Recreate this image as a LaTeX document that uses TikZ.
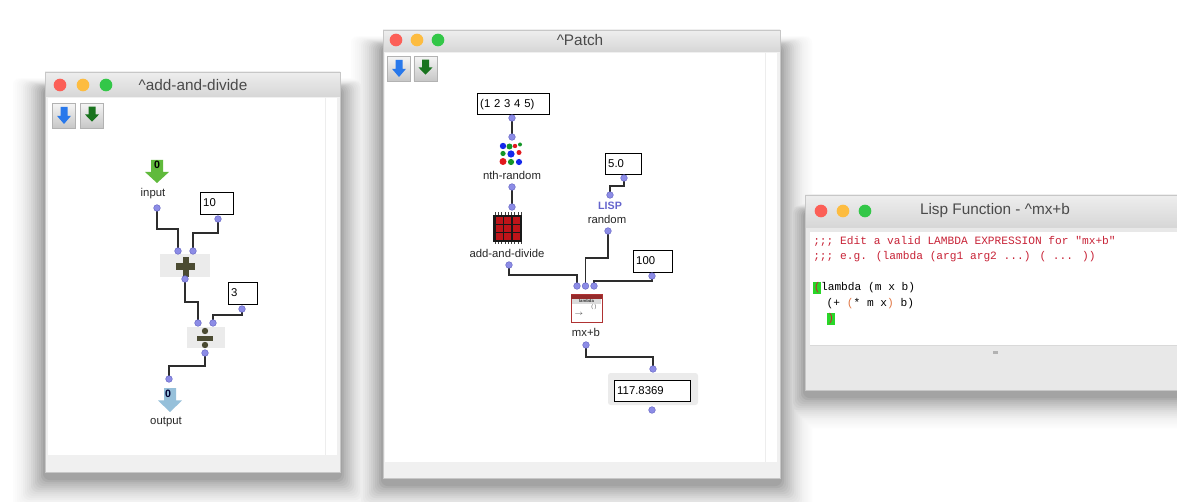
\documentclass[tikz,border=0pt]{standalone}
\usepackage{fontspec}
\setmainfont{Liberation Sans}
\newfontfamily\lispfont{Liberation Mono}
\pgfdeclarelayer{bg}
\pgfdeclarelayer{wires}
\pgfsetlayers{bg,wires,main}
\definecolor{portc}{RGB}{140,140,230}
\definecolor{portd}{RGB}{90,90,190}
\definecolor{wirec}{RGB}{45,45,45}
\definecolor{titlegray}{RGB}{74,74,74}
\definecolor{barTop}{RGB}{238,238,238}
\definecolor{barBot}{RGB}{214,214,214}
\definecolor{macred}{RGB}{252,95,87}
\definecolor{macyellow}{RGB}{253,188,64}
\definecolor{macgreen}{RGB}{51,199,72}
\definecolor{arrowblue}{RGB}{40,120,235}
\definecolor{arrowgreen}{RGB}{25,115,30}
\definecolor{ingreen}{RGB}{96,186,60}
\definecolor{outblue}{RGB}{150,192,218}
\definecolor{plusc}{RGB}{75,75,50}
\definecolor{chipred}{RGB}{190,20,25}
\definecolor{lambdared}{RGB}{175,50,50}
\definecolor{lispblue}{RGB}{100,100,205}
\definecolor{lispred}{RGB}{200,35,55}
\definecolor{lisporange}{RGB}{225,120,70}
\definecolor{hlgreen}{RGB}{40,215,40}
\definecolor{dotblue}{RGB}{20,40,235}
\definecolor{dotgreen}{RGB}{20,150,40}
\definecolor{dotred}{RGB}{225,25,30}
\tikzset{
  wintitle/.style={font=\fontsize{11.5}{13}\selectfont, text=titlegray, inner sep=0pt},
  light/.style={circle, inner sep=0pt, minimum size=9.5pt},
  btn/.style={rectangle, minimum width=17.5pt, minimum height=18.5pt, top color=black!4, bottom color=black!22, draw=black!30, line width=0.4pt, inner sep=0pt},
  port/.style={circle, fill=portc, draw=portd, line width=0.3pt, inner sep=0pt, minimum size=5pt},
  wire/.style={draw=wirec, line width=0.85pt},
  lbl/.style={font=\fontsize{8.5}{10}\selectfont, inner sep=0pt, text=black!85},
  valbox/.style={draw=black, line width=0.85pt, fill=white, anchor=north west, inner xsep=2pt, inner ysep=0pt, align=left, font=\fontsize{8.5}{10}\selectfont, text height=6.5pt, text depth=1.8pt},
  lispline/.style={anchor=west, inner sep=0pt, font=\lispfont\fontsize{8.4}{10}\selectfont},
  darrow/.pic={\fill[pic actions] (-0.25,-0.5) -- (0.25,-0.5) -- (0.25,0.02) -- (0.5,0.02) -- (0,0.5) -- (-0.5,0.02) -- (-0.25,0.02) -- cycle;}
}
\setlength{\fboxsep}{0.4pt}
\begin{document}
\begin{tikzpicture}[x=0.75pt,y=-0.75pt]
\path[use as bounding box] (0,0) rectangle (1177,502);
\clip (0,0) rectangle (1177,502);

% ================= window frames =================
\begin{pgfonlayer}{bg}
\fill[white] (0,0) rectangle (1177,502);
% soft drop shadows, drawn from the outermost (lightest) ring inwards
\foreach \k in {18,...,1} {
  \pgfmathtruncatemacro\shadepct{round(40*(1-\k/19)^2)}
  \fill[black!\shadepct, rounded corners=5pt] (45-2*\k,72+16-0.6*\k) rectangle (340+2*\k,472+6+2*\k);
  \fill[black!\shadepct, rounded corners=5pt] (383-2*\k,30+16-0.6*\k) rectangle (780+2*\k,478+6+2*\k);
  \fill[black!\shadepct, rounded corners=5pt] (805-2*\k,195+16-0.6*\k) rectangle (1195+2*\k,390+6+2*\k);
}
% left window
\fill[black!6] (45,72) rectangle (340,472);
\shade[top color=barTop, bottom color=barBot] (45,72) rectangle (340,97);
\fill[white] (48,98) rectangle (337,455);
\draw[black!7] (325,98) -- (325,455);
\draw[black!22, line width=0.5pt] (45,72) rectangle (340,472);
% middle window
\fill[black!6] (383,30) rectangle (780,478);
\shade[top color=barTop, bottom color=barBot] (383,30) rectangle (780,52);
\fill[white] (385,53) rectangle (777,462);
\draw[black!7] (765,53) -- (765,462);
\draw[black!22, line width=0.5pt] (383,30) rectangle (780,478);
% right window
\fill[black!9] (805,195) rectangle (1195,390);
\shade[top color=barTop, bottom color=barBot] (805,195) rectangle (1195,228);
\fill[white] (810,232) rectangle (1195,345);
\draw[black!15] (810,345) -- (1195,345);
\fill[black!30] (993,351) rectangle (998,354);
\draw[black!22, line width=0.5pt] (805,195) rectangle (1195,390);
\end{pgfonlayer}

% ================= title bars =================
\node[light, fill=macred] (lr) at (60,85) {};
\node[light, fill=macyellow] (ly) at (83,85) {};
\node[light, fill=macgreen] (lg) at (106,85) {};
\node[wintitle] (tL) at (193,85) {\textasciicircum add-and-divide};

\node[light, fill=macred] (mr) at (396,40) {};
\node[light, fill=macyellow] (my) at (417,40) {};
\node[light, fill=macgreen] (mg) at (438,40) {};
\node[wintitle] (tM) at (580,40) {\textasciicircum Patch};

\node[light, fill=macred] (rr) at (821,211) {};
\node[light, fill=macyellow] (ry) at (843,211) {};
\node[light, fill=macgreen] (rg) at (865,211) {};
\node[wintitle] (tR) at (995,211) {Lisp Function - \textasciicircum mx+b};

% ================= buttons =================
\node[btn] (bL1) at (64,115.5) {};
\node[btn] (bL2) at (92,115.5) {};
\pic[fill=arrowblue, xscale=14, yscale=17] at (bL1) {darrow};
\pic[fill=arrowgreen, xscale=14, yscale=15] at ([yshift=1pt]bL2.center) {darrow};
\node[btn] (bM1) at (399,68.5) {};
\node[btn] (bM2) at (425.5,68.5) {};
\pic[fill=arrowblue, xscale=14, yscale=17] at (bM1) {darrow};
\pic[fill=arrowgreen, xscale=14, yscale=15] at ([yshift=1pt]bM2.center) {darrow};

% ================= left patch =================
\pic[fill=ingreen, xscale=24, yscale=23] at (157,171.5) {darrow};
\node[inner sep=0pt, font=\bfseries\fontsize{8}{9}\selectfont] (inval) at (157,165) {0};
\node[lbl] (inlbl) at (153,194) {input};
\node[port] (pin) at (157,208) {};

\node[valbox, text width=20.75pt, minimum height=16.5pt] (b10) at (200,192) {10};
\node[port] (p10) at (218,219) {};

\fill[black!8] (160,254) rectangle (210,277);
\node[port] (plusA) at (178,251) {};
\node[port] (plusB) at (193,251) {};
\fill[plusc] (176,263) rectangle (195,270);
\fill[plusc] (182.5,257) rectangle (188.5,277);
\node[port] (plusO) at (185,279) {};

\node[valbox, text width=17.75pt, minimum height=16.5pt] (b3) at (228,282) {3};
\node[port] (p3) at (242,309) {};

\fill[black!8] (187,327) rectangle (225,348);
\node[port] (divA) at (198,323) {};
\node[port] (divB) at (213,323) {};
\fill[plusc] (197,335.5) rectangle (213,340.5);
\fill[plusc] (205,331) circle (3.2);
\fill[plusc] (205,345) circle (3.2);
\node[port] (divO) at (205,353) {};

\node[port] (pout) at (169,379) {};
\pic[fill=outblue, xscale=24, yscale=24] at (170,400) {darrow};
\node[inner sep=0pt, font=\bfseries\fontsize{8}{9}\selectfont, text=black!80!blue] (outval) at (168,394) {0};
\node[lbl] (outlbl) at (166,422) {output};

% ================= middle patch =================
\node[valbox, text width=50pt, minimum height=15.75pt] (blist) at (477,93) {(1 2 3 4 5)};
\node[port] (plist) at (512,118) {};
\node[port] (nthI) at (512,137) {};
% nth-random icon
\fill[dotblue] (503,146) circle (3.2);
\fill[dotgreen] (509.5,146.5) circle (3);
\fill[dotred] (515,146) circle (2.2);
\fill[dotgreen] (520,144.5) circle (2);
\fill[dotgreen] (503,153.5) circle (2.6);
\fill[dotblue] (511,154) circle (3.6);
\fill[dotred] (519,152.5) circle (2.5);
\fill[dotred] (503,161.5) circle (3.5);
\fill[dotgreen] (511,162) circle (3.1);
\fill[dotblue] (519,162) circle (3.1);
\node[lbl] (nthlbl) at (512,175) {nth-random};
\node[port] (nthO) at (512,187) {};
\node[port] (aadI) at (512,207) {};
% add-and-divide icon
\foreach \k in {0,...,8} {
  \draw[black!75, line width=0.5pt] (495+\k*3.3,212.5) -- (495+\k*3.3,215);
  \draw[black!75, line width=0.5pt] (495+\k*3.3,242) -- (495+\k*3.3,244.5);
}
\node[rectangle, fill=black!90, minimum width=21.75pt, minimum height=20.25pt, inner sep=0pt] (aadicon) at (507.5,228.5) {};
\foreach \i in {0,1,2} \foreach \j in {0,1,2}
  \fill[chipred] (495.5+\i*8.5,217.5+\j*8) rectangle ++(7,6.5);
\node[lbl] (aadlbl) at (507,253) {add-and-divide};
\node[port] (aadO) at (509,265) {};

\node[valbox, text width=23pt, minimum height=15.75pt] (b50) at (605,153) {5.0};
\node[port] (p50) at (624,178) {};
\node[port] (rndI) at (610,195) {};
\node[inner sep=0pt, font=\bfseries\fontsize{8}{9}\selectfont, text=lispblue] (lisp) at (610,206) {LISP};
\node[lbl] (rndlbl) at (607,219) {random};
\node[port] (rndO) at (608,231) {};

\node[valbox, text width=25.25pt, minimum height=16.5pt] (b100) at (633,250) {100};
\node[port] (p100) at (652,276) {};

\node[port] (mxA) at (577,286) {};
\node[port] (mxB) at (585.5,286) {};
\node[port] (mxC) at (594,286) {};
% mx+b icon
\node[rectangle, fill=white, draw=lambdared, line width=0.7pt, minimum width=23.25pt, minimum height=21pt, inner sep=0pt] (mxicon) at (586.5,308.5) {};
\fill[lambdared!85!black] (571,294.5) rectangle (602,298.5);
\fill[black!14] (572,298.5) rectangle (601,304);
\node[inner sep=0pt, font=\bfseries\fontsize{3.2}{4}\selectfont, text=black!80] (lamtxt) at (586.5,301.3) {lambda};
\node[inner sep=0pt, font=\fontsize{4}{5}\selectfont, text=black!70] (lamparen) at (594,307.5) {( )};
\node[inner sep=0pt, font=\fontsize{4}{5}\selectfont, text=black!70] (lamarrow) at (579,314) {$\rightarrow$};
\node[lbl] (mxlbl) at (586,332) {mx+b};
\node[port] (mxO) at (586,345) {};

\fill[black!8, rounded corners=2pt] (608,373) rectangle (698,405);
\node[port] (resI) at (653,369) {};
\node[valbox, text width=53pt, minimum height=15.75pt] (bres) at (614,380) {117.8369};
\node[port] (resO) at (652,410) {};

% ================= wires =================
\begin{pgfonlayer}{wires}
\draw[wire] (pin.center) -- ++(0,21) -| (plusA.center);
\draw[wire] (p10.center) -- ++(0,14) -| (plusB.center);
\draw[wire] (plusO.center) -- ++(0,23) -| (divA.center);
\draw[wire] (p3.center) -- ++(0,6) -| (divB.center);
\draw[wire] (divO.center) -- ++(0,13) -| (pout.center);
\draw[wire] (plist.center) -- (nthI.center);
\draw[wire] (nthO.center) -- (aadI.center);
\draw[wire] (p50.center) -- ++(0,8) -| (rndI.center);
\draw[wire] (aadO.center) -- ++(0,10) -| (mxA.center);
\draw[wire] (rndO.center) -- ++(0,27) -| (mxB.center);
\draw[wire] (p100.center) -- ++(0,5) -| (mxC.center);
\draw[wire] (mxO.center) -- ++(0,12) -| (resI.center);
\end{pgfonlayer}

% ================= lisp editor =================
\node[lispline, text=lispred] (c1) at (813,241) {;;; Edit a valid LAMBDA EXPRESSION for "mx+b"};
\node[lispline, text=lispred] (c2) at (813,257) {;;; e.g. (lambda (arg1 arg2 ...) ( ... ))};
\node[lispline] (l3) at (813,288) {\colorbox{hlgreen}{\textcolor{lispred}{(}\vphantom{Ag}}lambda (m x b)};
\node[lispline] (l4) at (813,303.5) {\ \ (+ \textcolor{lisporange}{(}* m x\textcolor{lisporange}{)} b)};
\node[lispline] (l5) at (813,319) {\ \ \colorbox{hlgreen}{\textcolor{lispred}{)}\vphantom{Ag}}};
\end{tikzpicture}
\end{document}
